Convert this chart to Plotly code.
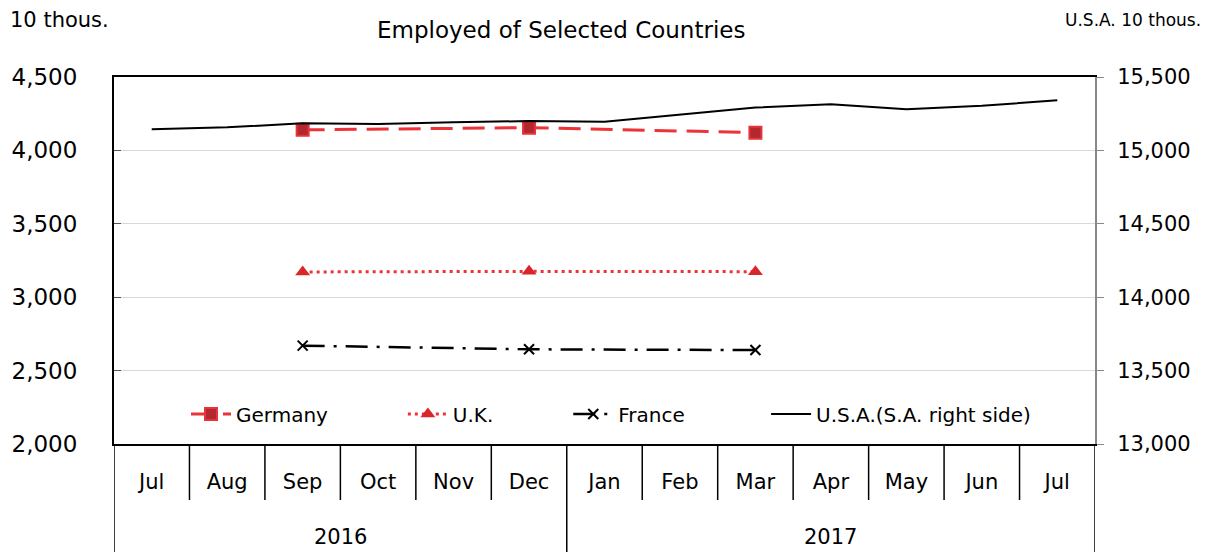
import plotly.graph_objects as go

years = ["2016"] * 6 + ["2017"] * 7
months = ["Jul", "Aug", "Sep", "Oct", "Nov", "Dec", "Jan", "Feb", "Mar", "Apr", "May", "Jun", "Jul"]

germany = [None, None, 4140, None, None, 4155, None, None, 4121, None, None, None, None]
uk = [None, None, 3172, None, None, 3176, None, None, 3174, None, None, None, None]
france = [None, None, 2670, None, None, 2645, None, None, 2640, None, None, None, None]
usa = [15144, 15157, 15185, 15180, 15191, 15200, 15196, 15246, 15292, 15314, 15280, 15304, 15341]

left_ticks = [2000, 2500, 3000, 3500, 4000, 4500]
right_ticks = [13000, 13500, 14000, 14500, 15000, 15500]

FONT = "DejaVu Sans"
idx = list(range(len(months)))
NB = "\u00a0"

# The page body adds an 8px offset; lay the figure out in page pixels minus that offset.
OFF = 8
W, H = 1210 - OFF, 552 - OFF
L, T = 114 - OFF, 77 - OFF
R, B = W - (1095 - OFF), H - (444 - OFF)
PW, PH = W - L - R, H - T - B


def px_x(p):
    return (p - OFF - L) / PW


def px_y(p):
    return 1 - (p - OFF - T) / PH


fig = go.Figure()
fig.add_trace(go.Scatter(
    x=idx, y=germany, name="Germany" + NB * 11, mode="lines+markers", connectgaps=True,
    line=dict(color="#EC3338", width=3, dash="22px,10px"),
    marker=dict(symbol="square", size=12, color="#B3282E", line=dict(color="#E8333A", width=2)),
))
fig.add_trace(go.Scatter(
    x=idx, y=uk, name="U.K." + NB * 11, mode="lines+markers", connectgaps=True,
    line=dict(color="#EC3338", width=3, dash="3px,4px"),
    marker=dict(symbol="triangle-up", size=13, color="#D9262B"),
))
fig.add_trace(go.Scatter(
    x=idx, y=france, name="France" + NB * 12, mode="lines+markers", connectgaps=True,
    line=dict(color="#000000", width=2.5, dash="22px,9px,3px,9px"),
    marker=dict(symbol="x-thin", size=10, color="#000000", line=dict(color="#000000", width=2)),
))
fig.add_trace(go.Scatter(
    x=idx, y=usa, name="U.S.A.(S.A. right side)", mode="lines", yaxis="y2",
    line=dict(color="#000000", width=2),
))

# separators for the category table below the axis
shapes = []
row1 = -56 / PH
bottom = -(B + 5) / PH
for i in range(len(months) + 1):
    xb = i - 0.5
    is_group_edge = (i == 0) or (i == len(months)) or (years[i] != years[i - 1])
    shapes.append(dict(type="line", xref="x", yref="paper", x0=xb, x1=xb,
                       y0=0, y1=bottom if is_group_edge else row1,
                       line=dict(color="#000000", width=1.5)))

annotations = []
for yr in dict.fromkeys(years):
    pos = [i for i, v in enumerate(years) if v == yr]
    annotations.append(dict(text=yr, xref="x", yref="paper", x=sum(pos) / len(pos),
                            y=px_y(537), xanchor="center", yanchor="middle",
                            showarrow=False, font=dict(size=21, family=FONT)))
annotations += [
    dict(text="Employed of Selected Countries", xref="paper", yref="paper",
         x=px_x(561), y=px_y(30), xanchor="center", yanchor="middle",
         showarrow=False, font=dict(size=23, family=FONT)),
    dict(text="10 thous.", xref="paper", yref="paper", x=px_x(8), y=px_y(20),
         xanchor="left", yanchor="middle", showarrow=False, font=dict(size=21, family=FONT)),
    dict(text="U.S.A. 10 thous.", xref="paper", yref="paper", x=px_x(1203),
         y=px_y(20), xanchor="right", yanchor="middle", showarrow=False,
         font=dict(size=17, family=FONT)),
]

fig.update_layout(
    width=W, height=H,
    margin=dict(l=L, r=R, t=T, b=B, autoexpand=False),
    paper_bgcolor="white", plot_bgcolor="white",
    font=dict(family=FONT, color="#000000", size=20),
    showlegend=True,
    legend=dict(orientation="h", x=px_x(611), xanchor="center", y=px_y(414), yanchor="middle",
                bgcolor="rgba(0,0,0,0)", font=dict(size=20, family=FONT),
                itemwidth=40, tracegroupgap=0),
    xaxis=dict(
        range=[-0.5, len(months) - 0.5], tickvals=idx, ticktext=months,
        showline=True, linecolor="#000000", linewidth=2, mirror=True,
        ticks="", showgrid=False, zeroline=False, automargin=False,
        ticklabelstandoff=18, tickfont=dict(size=21, family=FONT),
    ),
    yaxis=dict(
        range=[2000, 4500], tickvals=left_ticks, tickformat=",d",
        showline=True, linecolor="#000000", linewidth=2,
        showgrid=True, gridcolor="#D9D9D9", gridwidth=1,
        ticks="inside", ticklen=7, tickcolor="#555555", automargin=False,
        ticklabelstandoff=30, tickfont=dict(size=23, family=FONT), zeroline=False,
    ),
    yaxis2=dict(
        range=[13000, 15500], tickvals=right_ticks, tickformat=",d",
        overlaying="y", side="right", automargin=False,
        showline=True, linecolor="#888888", linewidth=2,
        showgrid=False, ticks="outside", ticklen=7, tickcolor="#888888",
        ticklabelstandoff=9, tickfont=dict(size=21, family=FONT), zeroline=False,
    ),
    shapes=shapes,
    annotations=annotations,
)

fig.write_html("out.html")
